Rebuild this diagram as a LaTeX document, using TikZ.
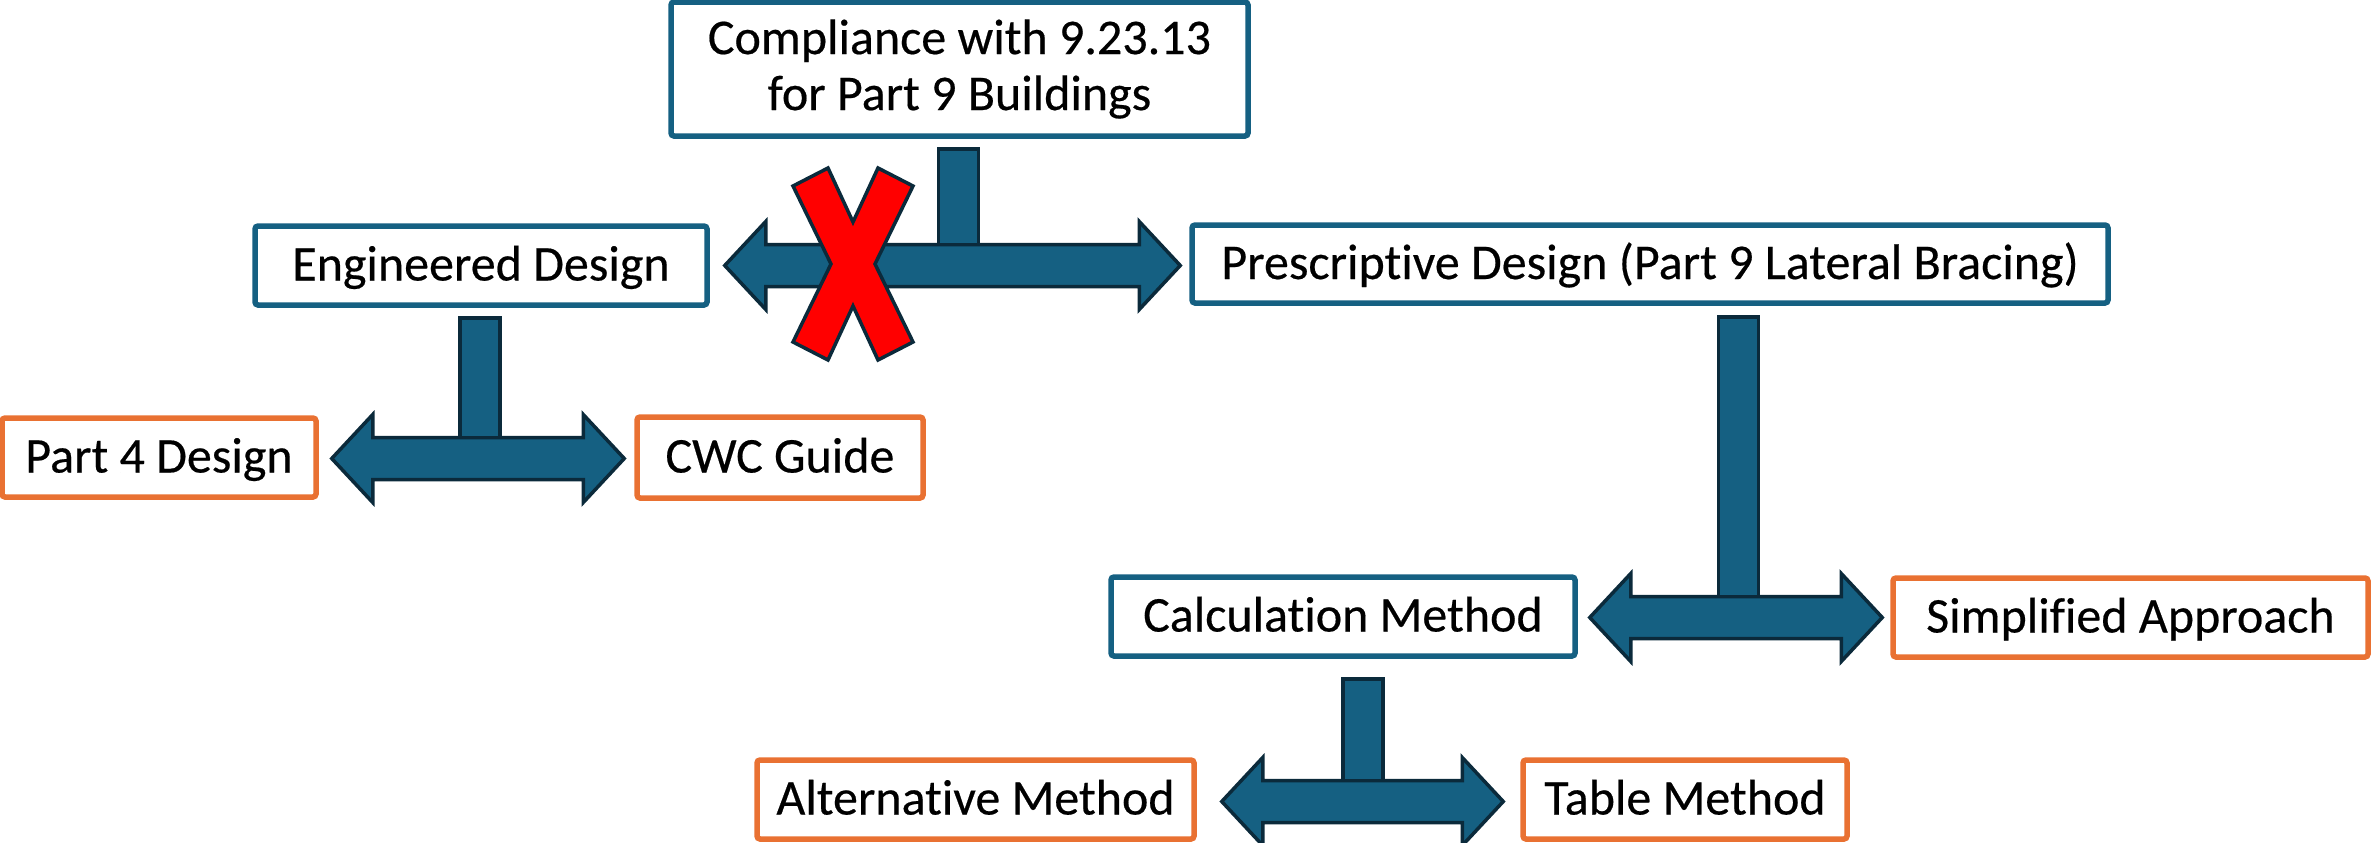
\documentclass[tikz,border=0pt]{standalone}
\usepackage{fontspec}
\setmainfont{Carlito}[Ligatures=NoCommon,FakeBold=0.4]
\usetikzlibrary{calc}
\definecolor{bbord}{HTML}{156082}
\definecolor{obord}{HTML}{E97132}
\definecolor{afill}{HTML}{156082}
\definecolor{aline}{HTML}{0B2A3B}
\tikzset{
 box/.style={draw, line width=2.75pt, rounded corners=1.5pt, fill=white, inner sep=0pt, font=\fontsize{25}{28}\selectfont},
 oneline/.style={text height=15pt, text depth=0pt},
 bluebox/.style={box, draw=bbord},
 orangebox/.style={box, draw=obord},
 tshape/.style={fill=afill, draw=aline, line width=1.75pt, line join=miter},
 cross/.style={fill=red, draw=aline, line width=1.75pt, line join=miter}
}
\newcommand{\tarrow}[3]{%
 \path[tshape] let \p1=(#1), \p2=(#2) in
 (\x1,\y1) -- (\x1+20.5pt,\y1+22pt) -- (\x1+20.5pt,\y1+10.5pt) -- (\x2-20.5pt,\y1+10.5pt) -- (\x2-20.5pt,\y1+22pt) -- (\x2,\y1) -- (\x2-20.5pt,\y1-22pt) -- (\x2-20.5pt,\y1-10.5pt) -- (\x1+20.5pt,\y1-10.5pt) -- (\x1+20.5pt,\y1-22pt) -- cycle;
 \path[tshape] let \p1=(#1), \p3=(#3) in (\x3-10pt,\y3) rectangle (\x3+10pt,\y1+10.5pt);
}
\begin{document}
\begin{tikzpicture}[x=0.5pt,y=-0.5pt]
\useasboundingbox (0,0) rectangle (2372,842);
% boxes
\node[bluebox, minimum width=288.5pt, minimum height=67pt, align=center] (top) at (959.5,69) {Compliance with 9.23.13\\for Part 9 Buildings};
\node[bluebox, oneline, minimum width=226pt, minimum height=39.5pt] (eng) at (481,265.5) {Engineered Design};
\node[bluebox, oneline, minimum width=458pt, minimum height=39pt] (presc) at (1650,264) {Prescriptive Design (Part 9 Lateral Bracing)};
\node[orangebox, oneline, minimum width=157pt, minimum height=39.5pt] (part4) at (159,457.5) {Part 4 Design};
\node[orangebox, oneline, minimum width=143pt, minimum height=40.5pt] (cwc) at (780,457.5) {CWC Guide};
\node[bluebox, oneline, minimum width=232pt, minimum height=39.5pt] (calc) at (1343,616.5) {Calculation Method};
\node[orangebox, oneline, minimum width=237.5pt, minimum height=39.5pt] (simp) at (2130.5,617.5) {Simplified Approach};
\node[orangebox, oneline, minimum width=218.5pt, minimum height=39.5pt] (alt) at (975.5,799.5) {Alternative Method};
\node[orangebox, oneline, minimum width=162pt, minimum height=39.5pt] (table) at (1685,799.5) {Table Method};
% arrow end points
\coordinate (a1l) at ($(eng.east)+(15,0)$);
\coordinate (a1r) at ($(presc.west)+(-9,0)$);
\coordinate (a1s) at ($(top.south)+(-1,10)$);
\coordinate (a2l) at ($(part4.east)+(13,1)$);
\coordinate (a2r) at ($(cwc.west)+(-10,1)$);
\coordinate (a2s) at ($(eng.south)+(-1,10)$);
\coordinate (a3l) at ($(calc.east)+(12,1)$);
\coordinate (a3r) at ($(simp.west)+(-8,1)$);
\coordinate (a3s) at ($(presc.south)+(88.5,11)$);
\coordinate (a4l) at ($(alt.east)+(25,2)$);
\coordinate (a4r) at ($(table.west)+(-17,2)$);
\coordinate (a4s) at ($(calc.south)+(20,20)$);
\tarrow{a1l}{a1r}{a1s}
\tarrow{a2l}{a2r}{a2s}
\tarrow{a3l}{a3r}{a3s}
\tarrow{a4l}{a4r}{a4s}
% red cross
\begin{scope}[shift={(853,264)}]
\draw[cross] (-60,-78) -- (-25,-96) -- (0,-42) -- (25,-96) -- (60,-78) -- (22,0) -- (60,78) -- (25,96) -- (0,42) -- (-25,96) -- (-60,78) -- (-22,0) -- cycle;
\end{scope}
\end{tikzpicture}
\end{document}
